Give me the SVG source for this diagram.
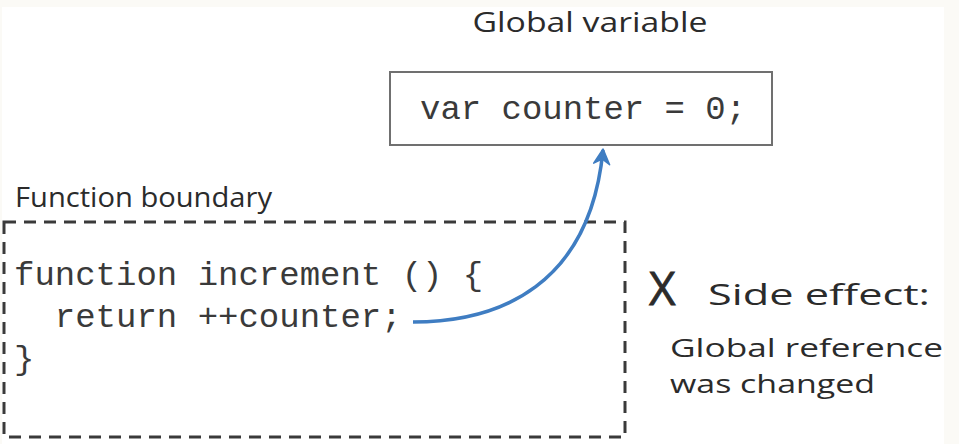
<svg xmlns="http://www.w3.org/2000/svg" width="959" height="444" viewBox="0 0 959 444">
<style>
.hand{font-family:"Open Sans","Liberation Sans",sans-serif;fill:#2b2b2b}
.code{font-family:"Liberation Mono","DejaVu Sans Mono",monospace;fill:#3a3a3a;font-size:34px}
</style>
<defs>
<marker id="ah" viewBox="0 0 20 20" refX="16" refY="10" markerWidth="20" markerHeight="20" markerUnits="userSpaceOnUse" orient="auto">
<path d="M2,2 L17,10 L2,18 L7,10 Z" fill="#3f7dc2" stroke="#3f7dc2" stroke-width="1.5" stroke-linejoin="round"/>
</marker>
</defs>
<rect x="0" y="0" width="959" height="444" fill="#fbfaf6"/>
<rect x="2" y="7" width="942" height="437" fill="#ffffff"/>

<g id="global-label">
<text class="hand" x="590" y="32" font-size="28" text-anchor="middle" textLength="235" lengthAdjust="spacingAndGlyphs">Global variable</text>
</g>

<g id="global-var">
<rect x="390" y="72" width="382" height="73" fill="#ffffff" stroke="#707070" stroke-width="2"/>
<text class="code" x="420" y="119" textLength="326" lengthAdjust="spacingAndGlyphs">var counter = 0;</text>
</g>

<g id="function-label">
<text class="hand" x="15" y="207" font-size="27" textLength="257" lengthAdjust="spacingAndGlyphs">Function boundary</text>
</g>

<g id="function-box">
<rect x="4" y="222" width="621" height="215" fill="none" stroke="#3a3a3a" stroke-width="3" stroke-dasharray="12,8"/>
<text class="code" x="14" y="285">function increment () {</text>
<text class="code" x="14" y="327" xml:space="preserve">  return ++counter;</text>
<text class="code" x="14" y="369">}</text>
</g>

<g id="side-effect">
<text class="hand" x="649" y="305" font-size="46" stroke="#2b2b2b" stroke-width="0.8">X</text>
<text class="hand" x="708" y="305" font-size="30" textLength="222" lengthAdjust="spacingAndGlyphs">Side effect:</text>
<text class="hand" x="670" y="357" font-size="26" textLength="273" lengthAdjust="spacingAndGlyphs">Global reference</text>
<text class="hand" x="670" y="393" font-size="26" textLength="205" lengthAdjust="spacingAndGlyphs">was changed</text>
</g>

<g id="connectors">
<path d="M413,322 C500,322 590,285 603,150" fill="none" stroke="#3f7dc2" stroke-width="3.5" marker-end="url(#ah)"/>
</g>
</svg>
